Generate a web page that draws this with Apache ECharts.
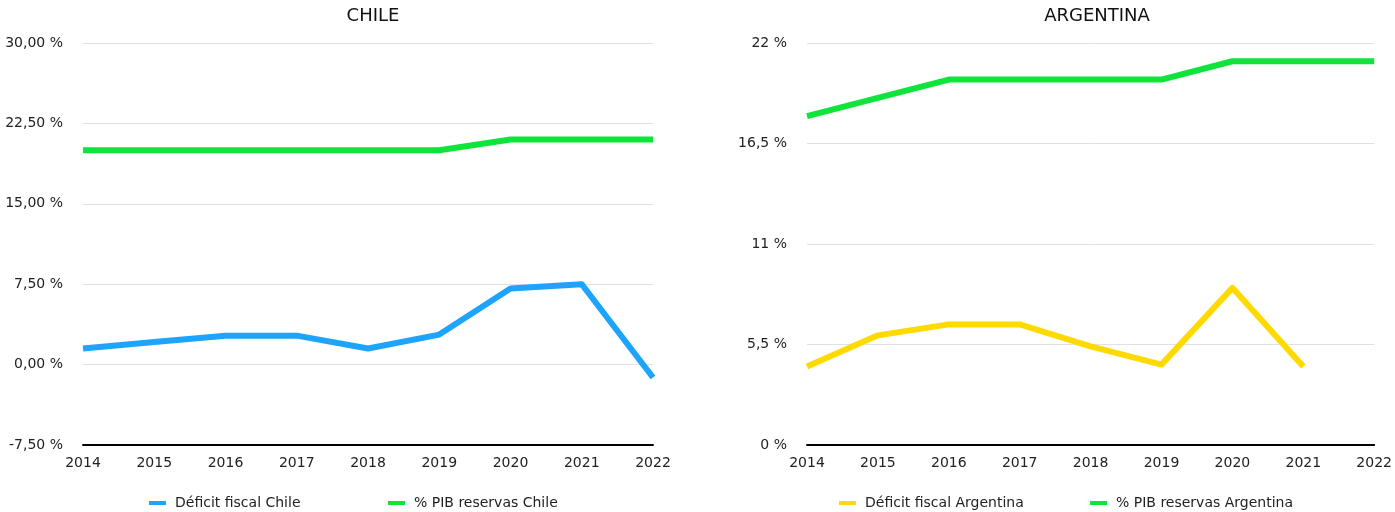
<!DOCTYPE html>
<html>
<head>
<meta charset="utf-8">
<script src="https://cdn.jsdelivr.net/npm/echarts@6/dist/echarts.min.js"></script>
<style>
  html, body { margin: 0; padding: 0; background: #fff; }
  #chart { width: 1395px; height: 512px; }
</style>
</head>
<body>
<div id="chart"></div>
<script>
// Years on the horizontal axis of both panels
const years = ['2014', '2015', '2016', '2017', '2018', '2019', '2020', '2021', '2022'];

// Chile (% of GDP)
const chileDeficit = [1.5, 2.1, 2.7, 2.7, 1.5, 2.8, 7.1, 7.5, -1.2];
const chileReserves = [20, 20, 20, 20, 20, 20, 21, 21, 21];

// Argentina (% of GDP); no fiscal figure for 2022
const argDeficit = [4.3, 6.0, 6.6, 6.6, 5.4, 4.4, 8.6, 4.3, null];
const argReserves = [18, 19, 20, 20, 20, 20, 21, 21, 21];

// Value-axis ranges
const chileAxis = { min: -7.5, max: 30, interval: 7.5 };
const argAxis = { min: 0, max: 22, interval: 5.5 };

const seriesNames = {
  chileDeficit: 'Déficit fiscal Chile',
  chileReserves: '% PIB reservas Chile',
  argDeficit: 'Déficit fiscal Argentina',
  argReserves: '% PIB reservas Argentina'
};

const BLUE = '#1ea4fc';
const GREEN = '#0ee43a';
const YELLOW = '#ffda00';
const FONT = 'DejaVu Sans';
const TEXT = '#222';

const chart = echarts.init(document.getElementById('chart'), null, { renderer: 'canvas' });

function fmtComma(v, digits) {
  const s = digits == null ? String(+v.toFixed(2)) : v.toFixed(digits);
  return s.replace('.', ',') + ' %';
}

function xAxisFor(gridIndex) {
  return {
    type: 'category',
    gridIndex,
    data: years,
    boundaryGap: false,
    axisLine: { onZero: false, lineStyle: { color: '#000', width: 2 } },
    axisTick: { show: false },
    axisLabel: { color: TEXT, fontFamily: FONT, fontSize: 14, margin: 11 },
    splitLine: { show: false }
  };
}

function yAxisFor(gridIndex, range, formatter) {
  return {
    type: 'value',
    gridIndex,
    min: range.min,
    max: range.max,
    interval: range.interval,
    axisLine: { show: false },
    axisTick: { show: false },
    axisLabel: { color: TEXT, fontFamily: FONT, fontSize: 14, margin: 20, formatter },
    splitLine: { lineStyle: { color: '#e1e1e1', width: 1 } }
  };
}

function lineSeries(name, data, color, axisIndex) {
  return {
    name,
    type: 'line',
    data,
    xAxisIndex: axisIndex,
    yAxisIndex: axisIndex,
    showSymbol: false,
    symbol: 'none',
    connectNulls: false,
    lineStyle: { color, width: 6, join: 'round', cap: 'butt' },
    itemStyle: { color },
    emphasis: { disabled: true }
  };
}

function legendFor(name, left) {
  return {
    data: [name],
    left,
    top: 491,
    icon: 'rect',
    itemWidth: 17,
    itemHeight: 4,
    textStyle: { color: TEXT, fontFamily: FONT, fontSize: 14, padding: [0, 0, 0, 4] },
    selectedMode: false
  };
}

chart.setOption({
  animation: false,
  backgroundColor: '#fff',
  title: [
    { text: 'CHILE', left: 368, top: 2, textAlign: 'center',
      textStyle: { fontFamily: FONT, fontSize: 18, fontWeight: 'normal', color: '#111' } },
    { text: 'ARGENTINA', left: 1092, top: 2, textAlign: 'center',
      textStyle: { fontFamily: FONT, fontSize: 18, fontWeight: 'normal', color: '#111' } }
  ],
  grid: [
    { left: 83, right: 742, top: 43, bottom: 67 },
    { left: 807, right: 18, top: 43, bottom: 67 }
  ],
  xAxis: [xAxisFor(0), xAxisFor(1)],
  yAxis: [
    yAxisFor(0, chileAxis, v => fmtComma(v, 2)),
    yAxisFor(1, argAxis, v => fmtComma(v))
  ],
  legend: [
    legendFor(seriesNames.chileDeficit, 144),
    legendFor(seriesNames.chileReserves, 383),
    legendFor(seriesNames.argDeficit, 834),
    legendFor(seriesNames.argReserves, 1085)
  ],
  series: [
    lineSeries(seriesNames.chileDeficit, chileDeficit, BLUE, 0),
    lineSeries(seriesNames.chileReserves, chileReserves, GREEN, 0),
    lineSeries(seriesNames.argDeficit, argDeficit, YELLOW, 1),
    lineSeries(seriesNames.argReserves, argReserves, GREEN, 1)
  ]
});
</script>
</body>
</html>
